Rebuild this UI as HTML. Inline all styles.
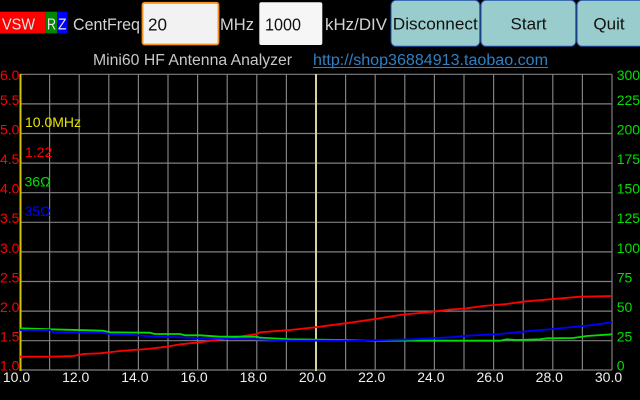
<!DOCTYPE html>
<html><head><meta charset="utf-8"><style>
html,body{margin:0;padding:0;background:#000;}
svg{display:block;}
text{font-family:"Liberation Sans",sans-serif;}
</style></head><body>
<svg width="640" height="400" viewBox="0 0 640 400" xmlns="http://www.w3.org/2000/svg">
<rect width="640" height="400" fill="#000"/>
<!-- header -->
<rect x="0" y="11.7" width="45.7" height="21.6" fill="#ff0000"/>
<rect x="45.7" y="11.7" width="11.3" height="21.6" fill="#008800"/>
<rect x="57" y="11.7" width="10.3" height="21.6" fill="#0000ff"/>
<text x="2" y="29.3" font-size="16" fill="#e8e8e8" textLength="33" lengthAdjust="spacingAndGlyphs">VSW</text>
<text x="47" y="29.3" font-size="16" fill="#e8e8e8" textLength="9" lengthAdjust="spacingAndGlyphs">R</text>
<text x="58" y="29.3" font-size="16" fill="#e8e8e8" textLength="8.5" lengthAdjust="spacingAndGlyphs">Z</text>
<text x="73" y="30" font-size="17" fill="#d4d4d4" textLength="67" lengthAdjust="spacingAndGlyphs">CentFreq</text>
<rect x="142.5" y="2.8" width="76" height="41.7" rx="2" fill="#f2f2f2" stroke="#f0901e" stroke-width="1.8"/>
<text x="148" y="30.5" font-size="17.5" fill="#111" textLength="19" lengthAdjust="spacingAndGlyphs">20</text>
<text x="220" y="30" font-size="17" fill="#d4d4d4" textLength="34" lengthAdjust="spacingAndGlyphs">MHz</text>
<rect x="259.3" y="2.3" width="63" height="42.7" rx="2" fill="#f6f6f6"/>
<text x="265" y="30.5" font-size="17.5" fill="#111" textLength="36" lengthAdjust="spacingAndGlyphs">1000</text>
<text x="325" y="30" font-size="17" fill="#d4d4d4" textLength="62" lengthAdjust="spacingAndGlyphs">kHz/DIV</text>
<rect x="391" y="0.3" width="88.8" height="46" rx="5" fill="#99cccc" stroke="#1f4fa8" stroke-width="1"/>
<text x="435.3" y="29.5" font-size="17" fill="#111" text-anchor="middle" textLength="85" lengthAdjust="spacingAndGlyphs">Disconnect</text>
<rect x="481" y="0.3" width="94.8" height="46" rx="5" fill="#99cccc" stroke="#1f4fa8" stroke-width="1"/>
<text x="528.5" y="29.5" font-size="17" fill="#111" text-anchor="middle">Start</text>
<rect x="577" y="0.3" width="68" height="46" rx="5" fill="#99cccc" stroke="#1f4fa8" stroke-width="1"/>
<text x="609" y="29.5" font-size="17" fill="#111" text-anchor="middle">Quit</text>
<text x="93" y="65" font-size="15.5" fill="#c8c8c8" textLength="199" lengthAdjust="spacingAndGlyphs">Mini60 HF Antenna Analyzer</text>
<text x="313" y="65" font-size="15.5" fill="#2f80c4" textLength="235" lengthAdjust="spacingAndGlyphs">http://shop36884913.taobao.com</text>
<line x1="313" y1="67.5" x2="548" y2="67.5" stroke="#2f80c4" stroke-width="1"/>
<!-- grid -->
<g stroke="#808080" stroke-width="1.2">
<line x1="49.6" y1="74.3" x2="49.6" y2="370"/>
<line x1="79.2" y1="74.3" x2="79.2" y2="370"/>
<line x1="108.8" y1="74.3" x2="108.8" y2="370"/>
<line x1="138.4" y1="74.3" x2="138.4" y2="370"/>
<line x1="168" y1="74.3" x2="168" y2="370"/>
<line x1="197.6" y1="74.3" x2="197.6" y2="370"/>
<line x1="227.2" y1="74.3" x2="227.2" y2="370"/>
<line x1="256.8" y1="74.3" x2="256.8" y2="370"/>
<line x1="286.4" y1="74.3" x2="286.4" y2="370"/>
<line x1="345.6" y1="74.3" x2="345.6" y2="370"/>
<line x1="375.2" y1="74.3" x2="375.2" y2="370"/>
<line x1="404.8" y1="74.3" x2="404.8" y2="370"/>
<line x1="434.4" y1="74.3" x2="434.4" y2="370"/>
<line x1="464" y1="74.3" x2="464" y2="370"/>
<line x1="493.6" y1="74.3" x2="493.6" y2="370"/>
<line x1="523.2" y1="74.3" x2="523.2" y2="370"/>
<line x1="552.8" y1="74.3" x2="552.8" y2="370"/>
<line x1="582.4" y1="74.3" x2="582.4" y2="370"/>
<line x1="612" y1="74.3" x2="612" y2="370"/>
<line x1="20" y1="74.3" x2="612" y2="74.3"/>
<line x1="20" y1="103.9" x2="612" y2="103.9"/>
<line x1="20" y1="133.5" x2="612" y2="133.5"/>
<line x1="20" y1="163.1" x2="612" y2="163.1"/>
<line x1="20" y1="192.7" x2="612" y2="192.7"/>
<line x1="20" y1="222.3" x2="612" y2="222.3"/>
<line x1="20" y1="251.9" x2="612" y2="251.9"/>
<line x1="20" y1="281.5" x2="612" y2="281.5"/>
<line x1="20" y1="311.1" x2="612" y2="311.1"/>
<line x1="20" y1="340.7" x2="612" y2="340.7"/>
<line x1="20" y1="370" x2="612" y2="370"/>
</g>
<line x1="20.5" y1="74" x2="20.5" y2="371" stroke="#d2c400" stroke-width="2"/>
<line x1="316" y1="74" x2="316" y2="371" stroke="#d6d69a" stroke-width="2"/>
<!-- series -->
<g fill="none" stroke-width="1.8" stroke-linejoin="round">
<polyline stroke="#ff0000" points="20,356.7 50,356.7 73,356 83,354 100,353.3 120,351 133,350 147,349 167,346.7 180,344.3 200,342.3 220,339.5 257,334 260,332.3 290,330 315,327.3 350,322.7 373,319.3 400,315 433,311.7 450,309.5 466.7,308.3 483,306 506.7,304 523,301.7 550,299.3 580,296.7 612,296"/>
<polyline stroke="#00e000" points="20,328.3 50,329.3 103,330.7 110,332.3 150,332.7 155,334 180,334 185,335.3 200,335.3 220,336.7 257,336.7 260,337.7 290,339.3 347,340 367,340.7 500,340.7 507,339.3 517,340 540,339.3 547,338.3 573,338 587,336 612,334.3"/>
<polyline stroke="#0000ff" points="20,330 50,330 53,332.3 100,332.7 107,333.3 110,334.3 133,335 157,336.7 180,337.3 200,338.3 217,338.3 257,339.3 290,340.7 360,340.7 413,339.3 450,337.3 467,335.7 500,334 533,330.7 553,329 587,325.7 612,322.3"/>
</g>
<!-- left axis labels -->
<g font-size="14" fill="#ff0000">
<text x="0" y="80">6.0</text>
<text x="0" y="105">5.5</text>
<text x="0" y="134.5">5.0</text>
<text x="0" y="164">4.5</text>
<text x="0" y="193.5">4.0</text>
<text x="0" y="223">3.5</text>
<text x="0" y="253">3.0</text>
<text x="0" y="282.5">2.5</text>
<text x="0" y="312">2.0</text>
<text x="0" y="341.5">1.5</text>
<text x="0" y="370.5">1.0</text>
</g>
<!-- right axis labels -->
<g font-size="14" fill="#00e000">
<text x="616.7" y="80">300</text>
<text x="616.7" y="105">225</text>
<text x="616.7" y="134.5">200</text>
<text x="616.7" y="164">175</text>
<text x="616.7" y="193.5">150</text>
<text x="616.7" y="223">125</text>
<text x="616.7" y="253">100</text>
<text x="616.7" y="282.5">75</text>
<text x="616.7" y="312">50</text>
<text x="616.7" y="341.5">25</text>
<text x="616.7" y="370.5">0</text>
</g>
<!-- x labels -->
<g font-size="14" fill="#f0f0f0" text-anchor="middle">
<text x="16.5" y="381.8">10.0</text>
<text x="75.7" y="381.8">12.0</text>
<text x="134.9" y="381.8">14.0</text>
<text x="194.1" y="381.8">16.0</text>
<text x="253.3" y="381.8">18.0</text>
<text x="312.5" y="381.8">20.0</text>
<text x="371.7" y="381.8">22.0</text>
<text x="430.9" y="381.8">24.0</text>
<text x="490.1" y="381.8">26.0</text>
<text x="549.3" y="381.8">28.0</text>
<text x="608.5" y="381.8">30.0</text>
</g>
<!-- legend -->
<text x="25" y="127" font-size="14" fill="#e6e600">10.0MHz</text>
<text x="25" y="157" font-size="14" fill="#ff0000">1.22</text>
<text x="24.5" y="186.5" font-size="14" fill="#00e000">36Ω</text>
<text x="24.5" y="216" font-size="14" fill="#0000ff">35Ω</text>
</svg>
</body></html>
